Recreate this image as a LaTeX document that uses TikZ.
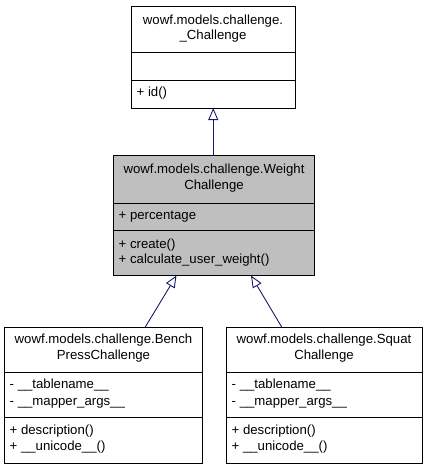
\documentclass[tikz,border=0pt]{standalone}
\usepackage{fontspec}
\setmainfont{Liberation Sans}
\usetikzlibrary{arrows.meta,calc}
\definecolor{edgeblue}{HTML}{191970}
\definecolor{boxgray}{HTML}{BFBFBF}
\begin{document}
\begin{tikzpicture}[x=1pt,y=-1pt,
  cls/.style={draw=black, line width=0.9pt, rectangle, inner sep=0pt, outer sep=0pt, anchor=north west},
  ttl/.style={font=\fontsize{13.2}{15}\selectfont, inner sep=0pt, anchor=mid},
  mem/.style={font=\fontsize{13.2}{15}\selectfont, inner sep=0pt, anchor=mid west},
  sep/.style={draw=black, line width=0.9pt},
  inh/.style={draw=edgeblue, line width=0.9pt, -{Triangle[open, length=12pt, width=10pt, line width=0.9pt]}}]
\useasboundingbox (0,0) rectangle (427,469);

% top class
\node[cls, minimum width=163.5pt, minimum height=101.5pt] (base) at (131.5,6.5) {};
\draw[sep] (131.5,52) -- (295,52);
\draw[sep] (131.5,80) -- (295,80);
\node[ttl] (baset1) at (213,22) {wowf.models.challenge.};
\node[ttl] (baset2) at (213,37) {\_Challenge};
\node[mem] (basem1) at (136.5,94) {+ id()};

% middle class
\node[cls, fill=boxgray, minimum width=201pt, minimum height=120pt] (wc) at (113.5,155.5) {};
\draw[sep] (113.5,203) -- (314.5,203);
\draw[sep] (113.5,230) -- (314.5,230);
\node[ttl] (wct1) at (214,171) {wowf.models.challenge.Weight};
\node[ttl] (wct2) at (214,187) {Challenge};
\node[mem] (wca1) at (118.5,216.5) {+ percentage};
\node[mem] (wcm1) at (118.5,246) {+ create()};
\node[mem] (wcm2) at (118.5,261) {+ calculate\_user\_weight()};

% left class
\node[cls, minimum width=198pt, minimum height=136pt] (bp) at (4.5,327.5) {};
\draw[sep] (4.5,372) -- (202.5,372);
\draw[sep] (4.5,417) -- (202.5,417);
\node[ttl] (bpt1) at (103.5,341) {wowf.models.challenge.Bench};
\node[ttl] (bpt2) at (103.5,357) {PressChallenge};
\node[mem] (bpa1) at (9.5,386) {- \_\_tablename\_\_};
\node[mem] (bpa2) at (9.5,403) {- \_\_mapper\_args\_\_};
\node[mem] (bpm1) at (9.5,432) {+ description()};
\node[mem] (bpm2) at (9.5,448) {+ \_\_unicode\_\_()};

% right class
\node[cls, minimum width=195.5pt, minimum height=136pt] (sq) at (226.5,327.5) {};
\draw[sep] (226.5,372) -- (422,372);
\draw[sep] (226.5,417) -- (422,417);
\node[ttl] (sqt1) at (324,341) {wowf.models.challenge.Squat};
\node[ttl] (sqt2) at (324,357) {Challenge};
\node[mem] (sqa1) at (231.5,386) {- \_\_tablename\_\_};
\node[mem] (sqa2) at (231.5,403) {- \_\_mapper\_args\_\_};
\node[mem] (sqm1) at (231.5,432) {+ description()};
\node[mem] (sqm2) at (231.5,448) {+ \_\_unicode\_\_()};

% inheritance connectors
\coordinate (wcbl) at (176.5,275.5);
\coordinate (wcbr) at (251,275.5);
\coordinate (bptop) at (145,327.5);
\coordinate (sqtop) at (282,327.5);
\draw[inh] (wc.north -| base.south) -- (base.south);
\draw[inh] (bptop) -- (wcbl);
\draw[inh] (sqtop) -- (wcbr);
\end{tikzpicture}
\end{document}
